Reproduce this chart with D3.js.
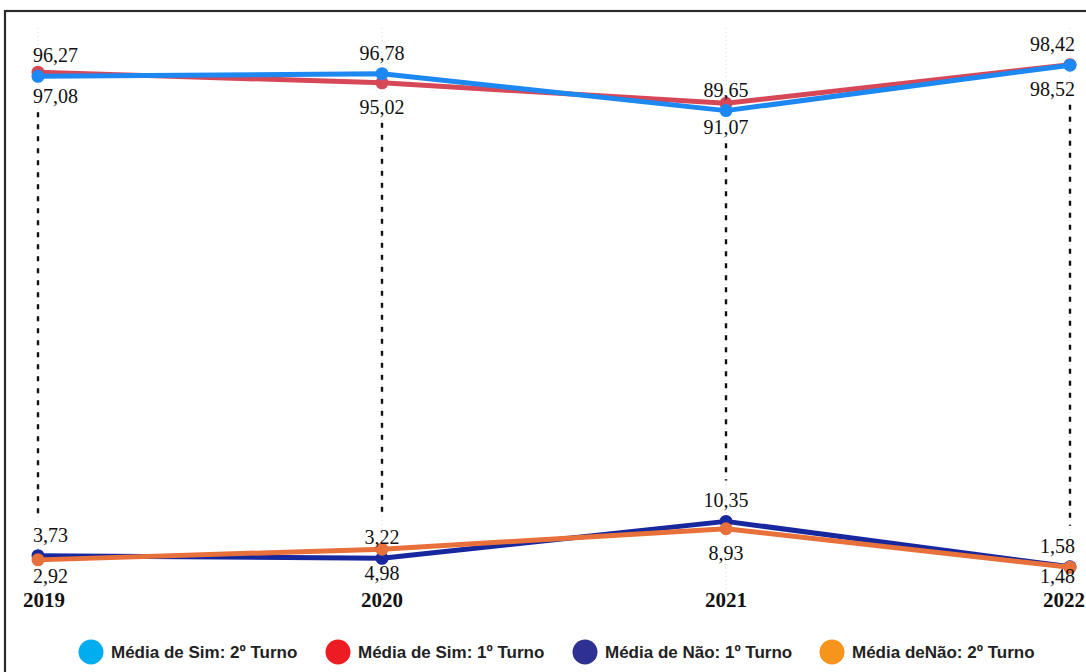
<!DOCTYPE html>
<html>
<head>
<meta charset="utf-8">
<script src="https://cdn.jsdelivr.net/npm/d3@7"></script>
<style>
  html, body { margin: 0; padding: 0; background: #fff; }
  svg { display: block; }
</style>
</head>
<body>
<svg id="chart" width="1086" height="672"></svg>
<script>
// Anos avaliados
const years = ["2019", "2020", "2021", "2022"];

// Médias por turno (%)
const simTurno2 = [96.27, 96.78, 89.65, 98.42];
const simTurno1 = [97.08, 95.02, 91.07, 98.52];
const naoTurno1 = [3.73, 3.22, 10.35, 1.58];
const naoTurno2 = [2.92, 4.98, 8.93, 1.48];

const legendLabels = [
  "Média de Sim: 2º Turno",
  "Média de Sim: 1º Turno",
  "Média de Não: 1º Turno",
  "Média deNão: 2º Turno"
];

const fmt = v => d3.format(".2f")(v).replace(".", ",");

const svg = d3.select("#chart");

const x = d3.scalePoint().domain(years).range([38, 1070]);
const y = d3.scaleLinear().domain([0, 100]).range([575, 57]);

// frame
svg.append("rect")
  .attr("x", 5).attr("y", 11)
  .attr("width", 1100).attr("height", 700)
  .attr("fill", "none")
  .attr("stroke", "#2b2b2b")
  .attr("stroke-width", 2.2);

// faint vertical guides at each year
svg.append("g").selectAll("line")
  .data(years).join("line")
  .attr("x1", d => x(d)).attr("x2", d => x(d))
  .attr("y1", 28).attr("y2", 590)
  .attr("stroke", "#d8d8d8")
  .attr("stroke-width", 1)
  .attr("stroke-dasharray", "1,3");

// series: label above for the first of each pair, below for the second
const series = [
  { values: simTurno1, line: "#d64858", pos: "below", legend: "#ed1c24" },
  { values: simTurno2, line: "#1e88f2", pos: "above", legend: "#00aeef" },
  { values: naoTurno1, line: "#17279e", pos: "above", legend: "#2e3192" },
  { values: naoTurno2, line: "#e8703a", pos: "below", legend: "#f7941d" }
];

const labelY = (s, i) => {
  const py = y(s.values[i]);
  return s.pos === "above" ? py - 14 : Math.min(py + 31, 583);
};

// dashed drop lines between the upper and lower label pairs
svg.append("g").selectAll("line")
  .data(years).join("line")
  .attr("x1", d => x(d)).attr("x2", d => x(d))
  .attr("y1", (d, i) => labelY(series[0], i) + 9)
  .attr("y2", (d, i) => labelY(series[2], i) - 27)
  .attr("stroke", "#111")
  .attr("stroke-width", 2.4)
  .attr("stroke-dasharray", "5,7");

const line = d3.line()
  .x((d, i) => x(years[i]))
  .y(d => y(d));

series.forEach(s => {
  const g = svg.append("g");
  g.append("path")
    .datum(s.values)
    .attr("d", line)
    .attr("fill", "none")
    .attr("stroke", s.line)
    .attr("stroke-width", 5)
    .attr("stroke-linejoin", "round");
  g.selectAll("circle")
    .data(s.values).join("circle")
    .attr("cx", (d, i) => x(years[i]))
    .attr("cy", d => y(d))
    .attr("r", 6.5)
    .attr("fill", s.line);
});

// value labels, kept inside the frame
const minX = 33, maxX = 1075;
series.forEach(s => {
  svg.append("g").selectAll("text")
    .data(s.values).join("text")
    .attr("font-family", "'Liberation Serif', 'Times New Roman', serif")
    .attr("font-size", 20)
    .attr("fill", "#111")
    .attr("y", (d, i) => labelY(s, i))
    .text(d => fmt(d))
    .each(function(d, i) {
      const w = this.getComputedTextLength();
      let cx = x(years[i]);
      if (cx - w / 2 < minX) cx = minX + w / 2;
      if (cx + w / 2 > maxX) cx = maxX - w / 2;
      d3.select(this).attr("x", cx).attr("text-anchor", "middle");
    });
});

// year labels
svg.append("g").selectAll("text")
  .data(years).join("text")
  .attr("font-family", "'Liberation Serif', 'Times New Roman', serif")
  .attr("font-size", 21)
  .attr("font-weight", "bold")
  .attr("fill", "#111")
  .attr("y", 607)
  .text(d => d)
  .each(function(d) {
    const w = this.getComputedTextLength();
    let cx = x(d);
    if (cx - w / 2 < 23) cx = 23 + w / 2;
    if (cx + w / 2 > 1085) cx = 1085 - w / 2;
    d3.select(this).attr("x", cx).attr("text-anchor", "middle");
  });

// legend
const legendOrder = [1, 0, 2, 3];
const legendX = [91, 338, 585, 832];
const lg = svg.append("g");
legendOrder.forEach((si, k) => {
  const item = lg.append("g").attr("transform", `translate(${legendX[k]},652)`);
  item.append("circle").attr("r", 12.5).attr("fill", series[si].legend);
  item.append("text")
    .attr("x", 20).attr("y", 6)
    .attr("font-family", "'Liberation Sans Narrow', 'Liberation Sans', Arial, sans-serif")
    .attr("font-weight", "bold")
    .attr("font-size", 17)
    .attr("fill", "#222")
    .text(legendLabels[k]);
});
</script>
</body>
</html>
